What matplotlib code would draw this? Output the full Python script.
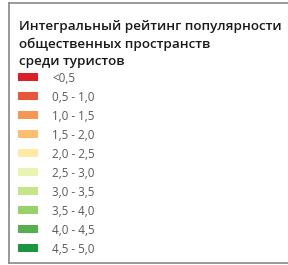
import matplotlib
matplotlib.use("Agg")
import matplotlib.pyplot as plt

title_lines = ["Интегральный рейтинг популярности",
               "общественных пространств",
               "среди туристов"]
categories = ["<0,5", "0,5 - 1,0", "1,0 - 1,5", "1,5 - 2,0", "2,0 - 2,5",
              "2,5 - 3,0", "3,0 - 3,5", "3,5 - 4,0", "4,0 - 4,5", "4,5 - 5,0"]
colors = ["#dc1f26", "#e8553a", "#f79552", "#fdbf6f", "#feeaa5",
          "#e8f5b0", "#c4e687", "#9ad26a", "#56b04f", "#1a9641"]

W, H = 288, 265
fig = plt.figure(figsize=(W / 100, H / 100), dpi=100)
ax = fig.add_axes([0, 0, 1, 1])
ax.set_xlim(0, W)
ax.set_ylim(H, 0)
ax.axis("off")

# frame (top, left, bottom)
ax.plot([8.5, W], [2.5, 2.5], color="#888888", lw=1.2)
ax.plot([8.5, 8.5], [2.5, 262.5], color="#888888", lw=1.2)
ax.plot([8.5, W], [262.5, 262.5], color="#888888", lw=1.2)

for i, line in enumerate(title_lines):
    ax.text(19, 30 + i * 17.6, line, fontsize=9.7, fontweight="semibold",
            family="Open Sans", color="#1a1a1a", va="baseline")

y0, dy = 77, 19
ax.barh([y0 + i * dy for i in range(len(categories))], [20] * len(categories),
        left=18, height=8, color=colors)
for i, lab in enumerate(categories):
    ax.text(52, y0 + i * dy, lab, fontsize=8.4, family="Open Sans",
            color="#5a5a5a", va="center_baseline")

fig.savefig("out.png", dpi=100)
